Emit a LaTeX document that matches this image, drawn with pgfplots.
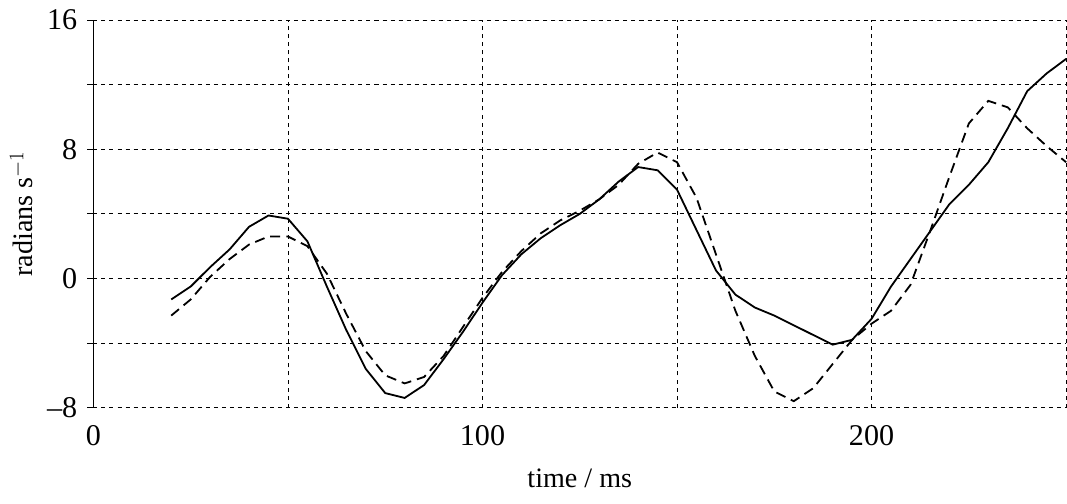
\documentclass[border=0pt]{standalone}
\usepackage{pgfplots}
\pgfplotsset{compat=1.18}
\usepackage{fontspec}
\setmainfont{Liberation Serif}
\begin{document}
\fontsize{30}{36}\selectfont
\begin{tikzpicture}
\begin{axis}[
  scale only axis, width=969pt, height=386pt,
  xmin=0, xmax=250, ymin=-8, ymax=16,
  axis lines=left,
  x axis line style={draw=none},
  y axis line style={-, black, line width=1pt},
  xtick={0,100,200}, ytick={-8,0,8,16}, yticklabels={--8,0,8,16},
  minor xtick={50,150,250}, minor ytick={-4,4,12},
  grid=both, grid style={dash pattern=on 4pt off 4pt, black, line width=0.9pt},
  minor grid style={dash pattern=on 4pt off 4pt, black, line width=0.9pt},
  xtick style={draw=none},
  ytick style={black, line width=0.8pt}, tick align=outside, major tick length=6pt, minor tick length=6pt,
  tick label style={font=\fontsize{30}{36}\selectfont},
  /pgf/number format/assume math mode=true,
  xticklabel style={yshift=-2pt},
  xlabel={time / ms}, ylabel={radians s$^{-1}$},
  label style={font=\fontsize{28}{34}\selectfont},
  xlabel style={yshift=-2pt, text depth=6pt},
  ylabel style={yshift=-6pt},
  clip=false,
]
\addplot[black, line width=1.8pt] coordinates {
(20,-1.3)(25,-0.5)(30,0.7)(35,1.8)(40,3.2)(45,3.9)(50,3.7)(55,2.3)(60,-0.5)(65,-3.2)(70,-5.6)(75,-7.1)(80,-7.4)(85,-6.6)(90,-5.0)(95,-3.3)(100,-1.5)(105,0.2)(110,1.5)(115,2.5)(120,3.3)(125,4.0)(130,4.9)(135,6.0)(140,6.9)(145,6.7)(150,5.5)(155,3.0)(160,0.5)(165,-1.0)(170,-1.8)(175,-2.3)(180,-2.9)(185,-3.5)(190,-4.1)(195,-3.8)(200,-2.5)(205,-0.5)(210,1.2)(215,2.9)(220,4.6)(225,5.8)(230,7.2)(235,9.3)(240,11.6)(245,12.7)(250,13.6)};
\addplot[black, line width=1.8pt, dash pattern=on 10pt off 6pt] coordinates {
(20,-2.3)(25,-1.3)(30,0.1)(35,1.2)(40,2.1)(45,2.6)(50,2.6)(55,2.0)(60,0.3)(65,-2.2)(70,-4.5)(75,-6.0)(80,-6.5)(85,-6.1)(90,-4.8)(95,-3.0)(100,-1.2)(105,0.4)(110,1.7)(115,2.8)(120,3.6)(125,4.2)(130,4.9)(135,5.8)(140,7.1)(145,7.8)(150,7.2)(155,5.0)(160,1.5)(165,-2.0)(170,-4.8)(175,-7.0)(180,-7.6)(185,-6.8)(190,-5.3)(195,-3.8)(200,-2.8)(205,-2.0)(210,-0.4)(215,2.9)(220,6.3)(225,9.6)(230,11.0)(235,10.6)(240,9.3)(245,8.2)(250,7.2)};
\end{axis}
\end{tikzpicture}
\end{document}
